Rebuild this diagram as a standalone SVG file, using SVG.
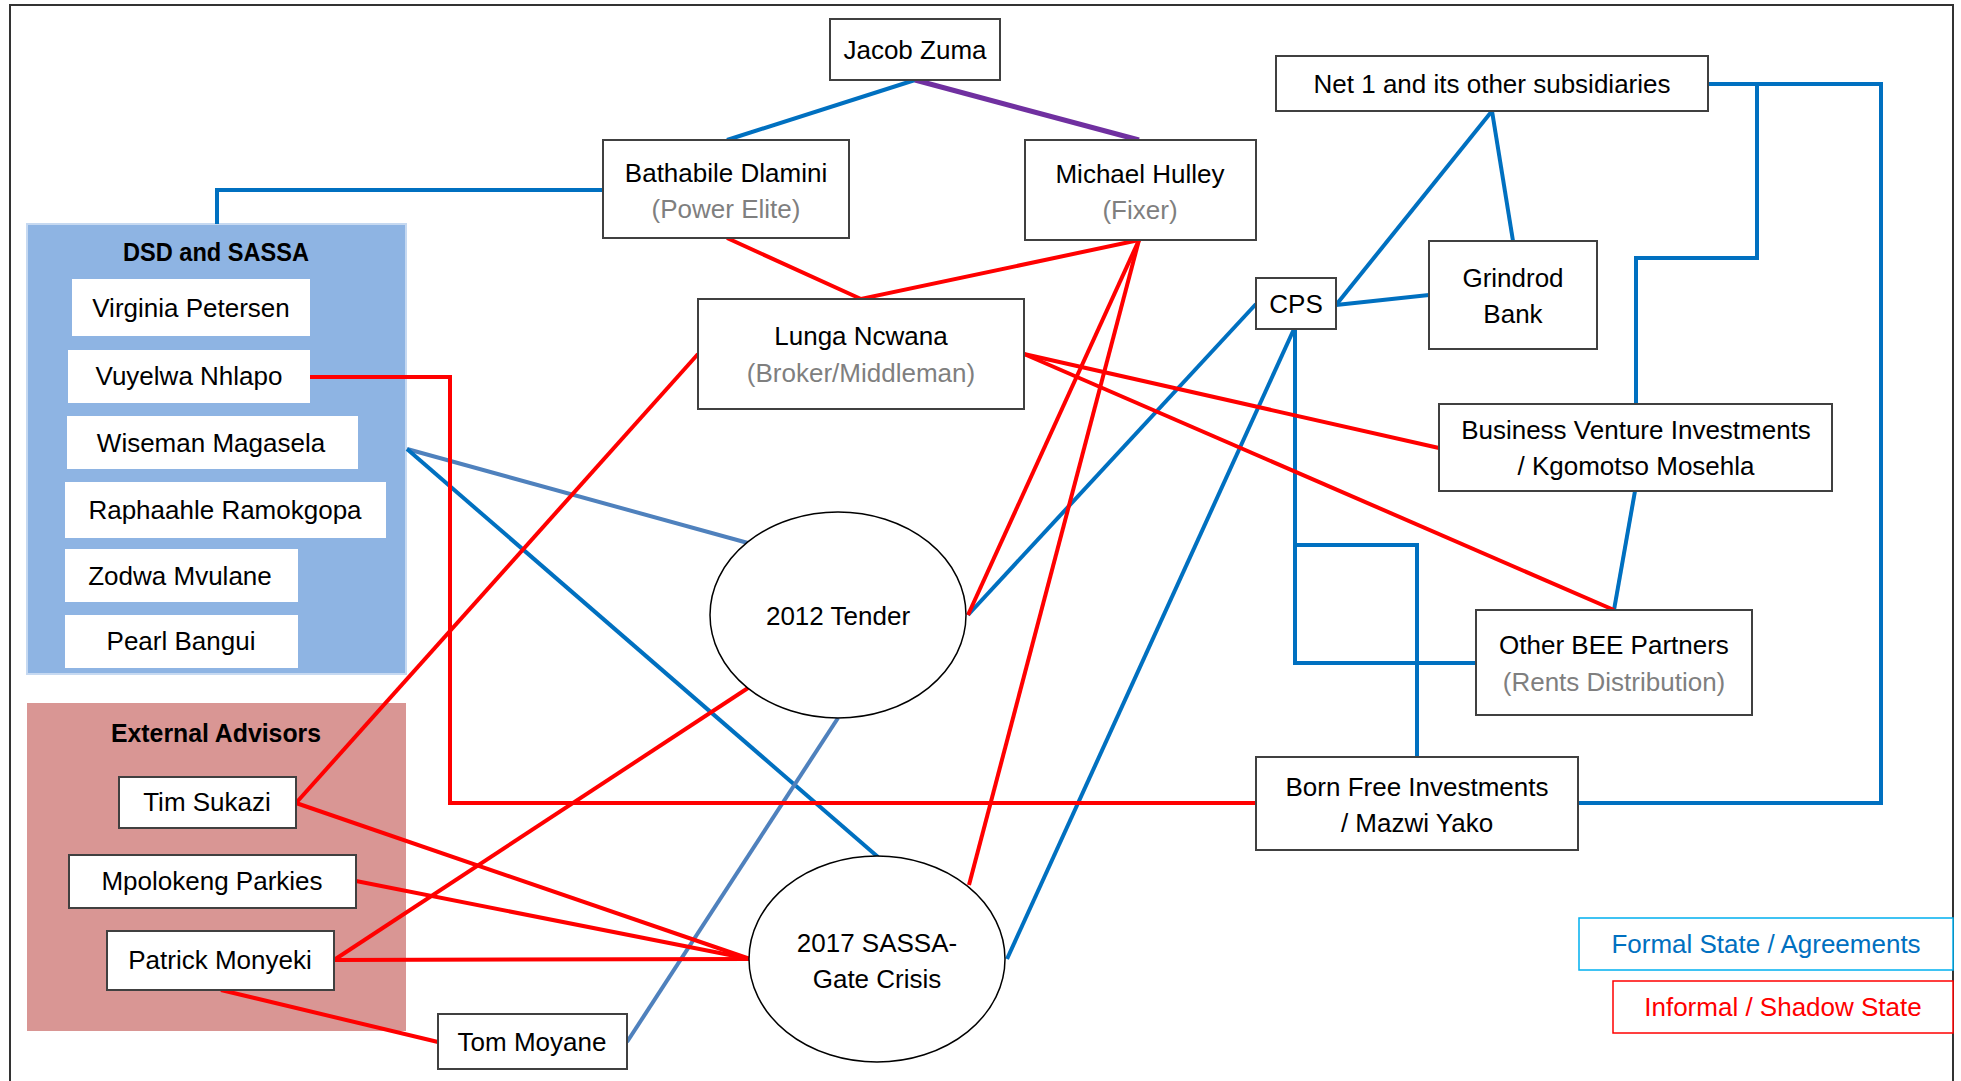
<svg xmlns="http://www.w3.org/2000/svg" width="1961" height="1081" viewBox="0 0 1961 1081">
<style>
  text { font-family: "Liberation Sans", Arial, sans-serif; font-size: 26px; fill: #000; text-anchor: middle; }
  .sub { fill: #7f7f7f; }
  .title { font-weight: bold; font-size: 25px; }
  .box { fill: #fff; stroke: #404040; stroke-width: 2; }
  .inner { fill: #fff; stroke: none; }
  .ell { fill: #fff; stroke: #000; stroke-width: 1.5; }
  .blue { stroke: #0070C0; stroke-width: 4; fill: none; }
  .steel { stroke: #4F81BD; stroke-width: 4; fill: none; }
  .red { stroke: #FF0000; stroke-width: 4; fill: none; }
  .purple { stroke: #7030A0; stroke-width: 5; fill: none; }
</style>
<rect x="0" y="0" width="1961" height="1081" fill="#fff"/>
<rect id="frame" x="10" y="5" width="1943" height="1100" fill="none" stroke="#333" stroke-width="2"/>

<g id="dsd-sassa">
  <rect x="27" y="224" width="379" height="450" fill="#8EB4E3" stroke="#c6d9f1" stroke-width="2"/>
  <text class="title" x="216" y="261" textLength="186" lengthAdjust="spacingAndGlyphs">DSD and SASSA</text>
</g>
<g id="external-advisors">
  <rect x="27" y="703" width="379" height="328" fill="#D99694"/>
  <text class="title" x="216" y="742" textLength="210" lengthAdjust="spacingAndGlyphs">External Advisors</text>
</g>

<g id="connectors">
  <path class="blue" d="M603,190 H217 V224"/>
  <path class="blue" stroke-width="5" d="M915,80 L727,140"/>
  <path class="purple" d="M915,80 L1139,140"/>
  <path class="blue" d="M1492,111 L1336,305"/>
  <path class="blue" d="M1492,111 L1513,241"/>
  <path class="blue" d="M1336,305 L1429,295"/>
  <path class="blue" d="M1256,304 L968,615"/>
  <path class="blue" d="M1294,329 L1007,959"/>
  <path class="blue" d="M1295,329 V663 H1476"/>
  <path class="blue" d="M1295,545 H1417 V757"/>
  <path class="blue" d="M1708,84 H1881 V803 H1578"/>
  <path class="blue" d="M1757,84 V258 H1636 V404"/>
  <path class="blue" d="M1635,491 L1614,610"/>
  <path class="steel" d="M407,449 L748,543"/>
  <path class="blue" d="M407,449 L878,857"/>
  <path class="steel" d="M627,1042 L838,718"/>

  <path class="red" d="M727,238 L861,299 L1139,240"/>
  <path class="red" d="M1139,240 L968,615"/>
  <path class="red" d="M1139,240 L969,885"/>
  <path class="red" d="M698,354 L296,803"/>
  <path class="red" d="M1024,354 L1439,448"/>
  <path class="red" d="M1024,354 L1614,610"/>
  <path class="red" d="M310,377 H450 V803 H1256"/>
  <path class="red" d="M296,803 L750,959"/>
  <path class="red" d="M356,881 L750,959"/>
  <path class="red" d="M334,960 L750,959"/>
  <path class="red" d="M334,960 L748,688"/>
  <path class="red" d="M221,990 L438,1042"/>
</g>

<g id="virginia-petersen"><rect class="inner" x="72" y="279" width="238" height="57"/><text x="191" y="317">Virginia Petersen</text></g>
<g id="vuyelwa-nhlapo"><rect class="inner" x="68" y="350" width="242" height="53"/><text x="189" y="385">Vuyelwa Nhlapo</text></g>
<g id="wiseman-magasela"><rect class="inner" x="67" y="416" width="291" height="53"/><text x="211" y="452">Wiseman Magasela</text></g>
<g id="raphaahle-ramokgopa"><rect class="inner" x="65" y="482" width="321" height="56"/><text x="225" y="519">Raphaahle Ramokgopa</text></g>
<g id="zodwa-mvulane"><rect class="inner" x="65" y="549" width="233" height="53"/><text x="180" y="585">Zodwa Mvulane</text></g>
<g id="pearl-bangui"><rect class="inner" x="65" y="615" width="233" height="53"/><text x="181" y="650">Pearl Bangui</text></g>

<g id="tim-sukazi"><rect class="box" x="119" y="777" width="177" height="51"/><text x="207" y="811">Tim Sukazi</text></g>
<g id="mpolokeng-parkies"><rect class="box" x="69" y="855" width="287" height="53"/><text x="212" y="890">Mpolokeng Parkies</text></g>
<g id="patrick-monyeki"><rect class="box" x="107" y="931" width="227" height="59"/><text x="220" y="969">Patrick Monyeki</text></g>
<g id="tom-moyane"><rect class="box" x="438" y="1014" width="189" height="55"/><text x="532" y="1051">Tom Moyane</text></g>

<g id="jacob-zuma"><rect class="box" x="830" y="19" width="170" height="61"/><text x="915" y="59">Jacob Zuma</text></g>
<g id="bathabile-dlamini"><rect class="box" x="603" y="140" width="246" height="98"/><text x="726" y="182">Bathabile Dlamini</text><text class="sub" x="726" y="218">(Power Elite)</text></g>
<g id="michael-hulley"><rect class="box" x="1025" y="140" width="231" height="100"/><text x="1140" y="183">Michael Hulley</text><text class="sub" x="1140" y="219">(Fixer)</text></g>
<g id="lunga-ncwana"><rect class="box" x="698" y="299" width="326" height="110"/><text x="861" y="345">Lunga Ncwana</text><text class="sub" x="861" y="382">(Broker/Middleman)</text></g>

<g id="net1"><rect class="box" x="1276" y="56" width="432" height="55"/><text x="1492" y="93">Net 1 and its other subsidiaries</text></g>
<g id="cps"><rect class="box" x="1256" y="278" width="80" height="51"/><text x="1296" y="313">CPS</text></g>
<g id="grindrod-bank"><rect class="box" x="1429" y="241" width="168" height="108"/><text x="1513" y="287">Grindrod</text><text x="1513" y="323">Bank</text></g>
<g id="business-venture"><rect class="box" x="1439" y="404" width="393" height="87"/><text x="1636" y="439">Business Venture Investments</text><text x="1636" y="475">/ Kgomotso Mosehla</text></g>
<g id="other-bee"><rect class="box" x="1476" y="610" width="276" height="105"/><text x="1614" y="654">Other BEE Partners</text><text class="sub" x="1614" y="691">(Rents Distribution)</text></g>
<g id="born-free"><rect class="box" x="1256" y="757" width="322" height="93"/><text x="1417" y="796">Born Free Investments</text><text x="1417" y="832">/ Mazwi Yako</text></g>

<g id="tender-2012"><ellipse class="ell" cx="838" cy="615" rx="128" ry="103"/><text x="838" y="625">2012 Tender</text></g>
<g id="sassa-gate-2017"><ellipse class="ell" cx="877" cy="959" rx="128" ry="103"/><text x="877" y="952">2017 SASSA-</text><text x="877" y="988">Gate Crisis</text></g>

<g id="legend">
  <g id="legend-formal"><rect x="1579" y="918" width="374" height="52" fill="#fff" stroke="#00B0F0" stroke-width="1.5"/><text x="1766" y="953" style="fill:#0070C0">Formal State / Agreements</text></g>
  <g id="legend-informal"><rect x="1613" y="981" width="340" height="52" fill="#fff" stroke="#FF0000" stroke-width="1.5"/><text x="1783" y="1016" style="fill:#FF0000">Informal / Shadow State</text></g>
</g>
</svg>
